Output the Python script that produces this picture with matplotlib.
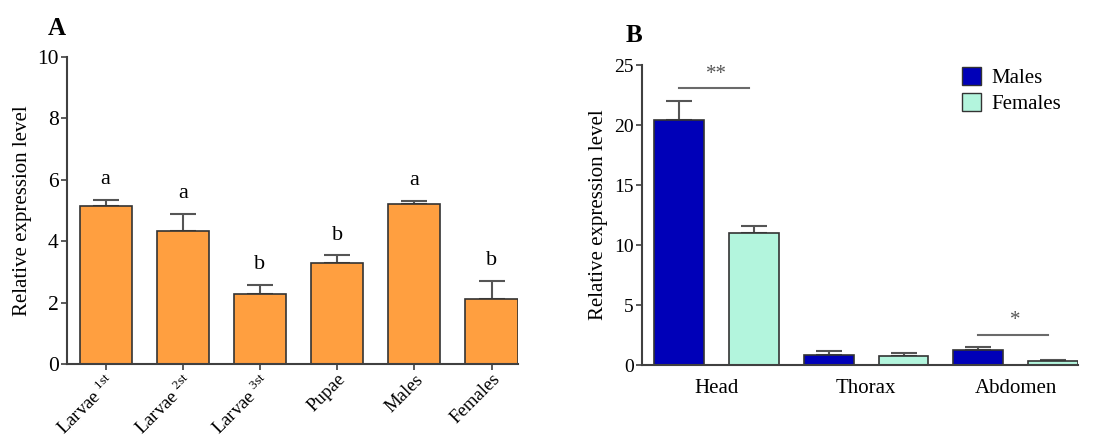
import numpy as np
import matplotlib
matplotlib.use("Agg")
from matplotlib import pyplot as plt
from matplotlib.patches import Patch

plt.rcParams['font.family'] = ['Liberation Serif', 'DejaVu Serif']
plt.rcParams['mathtext.fontset'] = 'custom'
plt.rcParams['mathtext.rm'] = 'Liberation Serif'

# panel A data
stages = ["Larvae $^{\\mathrm{1st}}$", "Larvae $^{\\mathrm{2st}}$", "Larvae $^{\\mathrm{3st}}$",
          "Pupae", "Males", "Females"]
stage_mean = [5.16, 4.34, 2.27, 3.28, 5.21, 2.13]
stage_err = [0.18, 0.55, 0.30, 0.26, 0.09, 0.58]
stage_letters = ["a", "a", "b", "b", "a", "b"]

# panel B data
tissues = ["Head", "Thorax", "Abdomen"]
male_mean = [20.4, 0.88, 1.28]
male_err = [1.6, 0.30, 0.22]
female_mean = [11.0, 0.75, 0.36]
female_err = [0.58, 0.27, 0.08]
sig_marks = ["**", "", "*"]

ORANGE = "#FF9F40"
NAVY = "#0000B8"
MINT = "#B3F5DD"
EDGE = "#333333"
AXC = "#404040"

fig = plt.figure(figsize=(11.04, 4.41), dpi=100)
axA = fig.add_axes([0.0607, 0.1746, 0.4083, 0.6964])
axB = fig.add_axes([0.5815, 0.172, 0.3949, 0.6806])


def style(ax):
    for s in ["top", "right"]:
        ax.spines[s].set_visible(False)
    for s in ["left", "bottom"]:
        ax.spines[s].set_color(AXC)
        ax.spines[s].set_linewidth(1.5)
    ax.tick_params(direction="out", length=4, width=1.2, color=AXC)


# ---- A ----
x = np.arange(len(stages))
axA.bar(x, stage_mean, width=0.675, color=ORANGE, edgecolor=EDGE, linewidth=1.2, zorder=2)
axA.errorbar(x, stage_mean, yerr=[np.zeros(len(x)), stage_err], fmt="none",
             ecolor="#555555", elinewidth=1.5, capsize=9.5, capthick=1.5, zorder=1)
for xi, m, e, l in zip(x, stage_mean, stage_err, stage_letters):
    axA.text(xi, m + e + 0.35, l, ha="center", va="bottom", fontsize=16)
axA.set_xlim(-0.5, 5.34)
axA.set_ylim(0, 10)
axA.set_yticks([0, 2, 4, 6, 8, 10])
axA.set_xticks(x)
axA.set_xticklabels(stages, rotation=45, ha="right", va="top", rotation_mode="anchor", fontsize=13.5)
axA.tick_params(axis="x", pad=1)
axA.tick_params(axis="y", labelsize=15.5, pad=2)
axA.set_ylabel("Relative expression level", fontsize=15, labelpad=4)
style(axA)
fig.text(0.043, 0.92, "A", fontsize=18, fontweight="bold")

# ---- B ----
pos_m = np.arange(len(tissues)) * 2
pos_f = pos_m + 1
axB.bar(pos_m, male_mean, width=0.667, color=NAVY, edgecolor=EDGE, linewidth=1.2, zorder=2, label="Males")
axB.bar(pos_f, female_mean, width=0.667, color=MINT, edgecolor=EDGE, linewidth=1.2, zorder=2, label="Females")
axB.errorbar(pos_m, male_mean, yerr=[np.zeros(3), male_err], fmt="none",
             ecolor="#555555", elinewidth=1.5, capsize=9.5, capthick=1.5, zorder=1)
axB.errorbar(pos_f, female_mean, yerr=[np.zeros(3), female_err], fmt="none",
             ecolor="#555555", elinewidth=1.5, capsize=9.5, capthick=1.5, zorder=1)
for pm, mm, me, fm, fe, s in zip(pos_m, male_mean, male_err, female_mean, female_err, sig_marks):
    if not s:
        continue
    top = max(mm + me, fm + fe)
    ly = top + 1.05
    axB.plot([pm, pm + 0.93], [ly, ly], color="#6a6a6a", linewidth=1.5)
    axB.text(pm + 0.5, ly + 0.4, s, ha="center", va="bottom", fontsize=15, color="#555555")
axB.set_xlim(-0.5, 5.333)
axB.set_ylim(0, 25)
axB.set_yticks([0, 5, 10, 15, 20, 25])
axB.set_xticks(pos_m + 0.5)
axB.set_xticklabels(tissues, fontsize=15)
axB.tick_params(axis="y", labelsize=14, pad=2)
axB.set_ylabel("Relative expression level", fontsize=15, labelpad=4)
style(axB)
axB.tick_params(axis="x", length=0, pad=10)
leg = axB.legend(handles=[Patch(facecolor=NAVY, edgecolor=EDGE, label="Males"),
                          Patch(facecolor=MINT, edgecolor=EDGE, label="Females")],
                 loc="upper right", bbox_to_anchor=(1.005, 1.055), frameon=False, fontsize=15,
                 handlelength=0.9, handleheight=0.9, handletextpad=0.5, labelspacing=0.25)
fig.text(0.567, 0.905, "B", fontsize=18, fontweight="bold")

fig.savefig("out.png", dpi=100)
